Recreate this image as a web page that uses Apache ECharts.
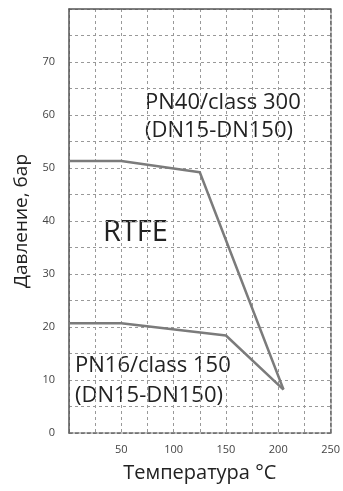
<!DOCTYPE html>
<html>
<head>
<meta charset="utf-8">
<script src="https://cdn.jsdelivr.net/npm/echarts@6/dist/echarts.min.js"></script>
<style>
  html, body { margin: 0; padding: 0; background: #fff; }
  #chart { width: 343px; height: 491px; }
</style>
</head>
<body>
<div id="chart"></div>
<script>
// данные
const pn40Temp = [0, 50, 125, 205]
const pn40Pres = [51.3, 51.3, 49.2, 8.2]
const pn16Temp = [0, 50, 150, 205]
const pn16Pres = [20.7, 20.7, 18.4, 8.2]
const yTicks = [0, 10, 20, 30, 40, 50, 60, 70]
const xTicks = [50, 100, 150, 200, 250]

const FONT = 'Open Sans'
const LINE = '#7b7b7b'
const TEXT = '#222'

const chart = echarts.init(document.getElementById('chart'))

const gridLine = { show: true, lineStyle: { color: '#999', type: [3, 3], width: 1 } }

const option = {
  animation: false,
  grid: { left: 69, top: 9, right: 7, bottom: 58 },
  xAxis: [
    {
      type: 'value',
      min: 0, max: 250, interval: 25,
      name: 'Температура °C',
      nameLocation: 'middle',
      nameGap: 30,
      nameTextStyle: { fontFamily: FONT, fontSize: 20, color: TEXT },
      axisLine: { show: true, onZero: false, lineStyle: { color: '#666', type: [4, 2], width: 1.5 } },
      axisTick: { show: false },
      axisLabel: {
        margin: 11, fontFamily: FONT, fontSize: 11, color: '#444',
        formatter: v => xTicks.includes(v) ? String(v) : ''
      },
      splitLine: gridLine
    },
    {
      type: 'value', position: 'top',
      min: 0, max: 250,
      axisLine: { show: true, onZero: false, lineStyle: { color: '#555', width: 1.5 } },
      axisTick: { show: false }, axisLabel: { show: false }, splitLine: { show: false }
    }
  ],
  yAxis: [
    {
      type: 'value',
      min: 0, max: 80, interval: 5,
      name: 'Давление, бар',
      nameLocation: 'middle',
      nameGap: 37,
      nameTextStyle: { fontFamily: FONT, fontSize: 19, color: TEXT },
      axisLine: { show: true, onZero: false, lineStyle: { color: '#555', width: 1.5 } },
      axisTick: { show: false },
      axisLabel: {
        margin: 14, fontFamily: FONT, fontSize: 11, color: '#444',
        formatter: v => yTicks.includes(v) ? String(v) : ''
      },
      splitLine: gridLine
    },
    {
      type: 'value', position: 'right',
      min: 0, max: 80,
      axisLine: { show: true, onZero: false, lineStyle: { color: '#666', type: [4, 2], width: 1.5 } },
      axisTick: { show: false }, axisLabel: { show: false }, splitLine: { show: false }
    }
  ],
  series: [
    {
      type: 'line',
      data: pn40Temp.map((t, i) => [t, pn40Pres[i]]),
      symbol: 'none',
      lineStyle: { color: LINE, width: 2.5 }
    },
    {
      type: 'line',
      data: pn16Temp.map((t, i) => [t, pn16Pres[i]]),
      symbol: 'none',
      lineStyle: { color: LINE, width: 2.5 }
    }
  ],
  graphic: [
    { type: 'text', style: { text: 'PN40/class 300', x: 145, y: 103, verticalAlign: 'middle', font: '22px "Open Sans"', fill: TEXT } },
    { type: 'text', style: { text: '(DN15-DN150)', x: 145, y: 131, verticalAlign: 'middle', font: '22px "Open Sans"', fill: TEXT } },
    { type: 'text', style: { text: 'RTFE', x: 103, y: 233, verticalAlign: 'middle', font: '29px "Open Sans"', fill: TEXT } },
    { type: 'text', style: { text: 'PN16/class 150', x: 75, y: 366, verticalAlign: 'middle', font: '22px "Open Sans"', fill: TEXT } },
    { type: 'text', style: { text: '(DN15-DN150)', x: 75, y: 396, verticalAlign: 'middle', font: '22px "Open Sans"', fill: TEXT } }
  ]
}

chart.setOption(option)
</script>
</body>
</html>
